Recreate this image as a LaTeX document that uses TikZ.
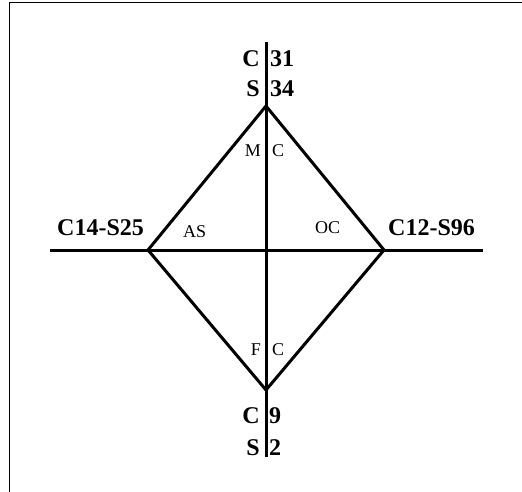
\documentclass[tikz,border=0pt]{standalone}
\usepackage{fontspec}
\setmainfont{Liberation Serif}
\begin{document}
\begin{tikzpicture}[x=1pt,y=-1pt,
  big/.style={font=\fontsize{24}{24}\selectfont\bfseries, inner sep=0pt},
  small/.style={font=\fontsize{18}{18}\selectfont, inner sep=0pt},
  line/.style={line width=3pt},
  frame/.style={line width=1.8pt, line cap=rect}]
\useasboundingbox (0,0) rectangle (522,492);
% frame (top and left edges)
\coordinate (fa) at (9.5,492);
\coordinate (fb) at (9.5,2.5);
\coordinate (fc) at (522,2.5);
\draw[frame] (fa) -- (fb) -- (fc);
% axes
\coordinate (VT) at (266,42);
\coordinate (VB) at (266,457);
\coordinate (HL) at (50,250);
\coordinate (HR) at (483,250);
\draw[line] (VT) -- (VB);
\draw[line] (HL) -- (HR);
% diamond
\coordinate (T) at (266,106);
\coordinate (B) at (266,390);
\coordinate (L) at (148,250);
\coordinate (R) at (384,250);
\draw[line, line join=miter] (T) -- (R) -- (B) -- (L) -- cycle;
% big labels
\node[big, anchor=base east] (c1) at (260,67) {C};
\node[big, anchor=base west] (n31) at (270,67) {31};
\node[big, anchor=base east] (s1) at (260,97) {S};
\node[big, anchor=base west] (n34) at (270,97) {34};
\node[big, anchor=base east] (c2) at (260,423) {C};
\node[big, anchor=base west] (n9) at (269,423) {9};
\node[big, anchor=base east] (s2) at (260,455) {S};
\node[big, anchor=base west] (n2) at (269,455) {2};
\node[big, anchor=base west] (lab1) at (57,235) {C14-S25};
\node[big, anchor=base west] (lab2) at (388,235) {C12-S96};
% small labels
\node[small, anchor=base west] (as) at (183,237) {AS};
\node[small, anchor=base west] (oc) at (315,233) {OC};
\node[small, anchor=base east] (m) at (261,157) {M};
\node[small, anchor=base west] (mc) at (272,157) {C};
\node[small, anchor=base east] (f) at (261,355) {F};
\node[small, anchor=base west] (fc2) at (272,355) {C};
\end{tikzpicture}
\end{document}
